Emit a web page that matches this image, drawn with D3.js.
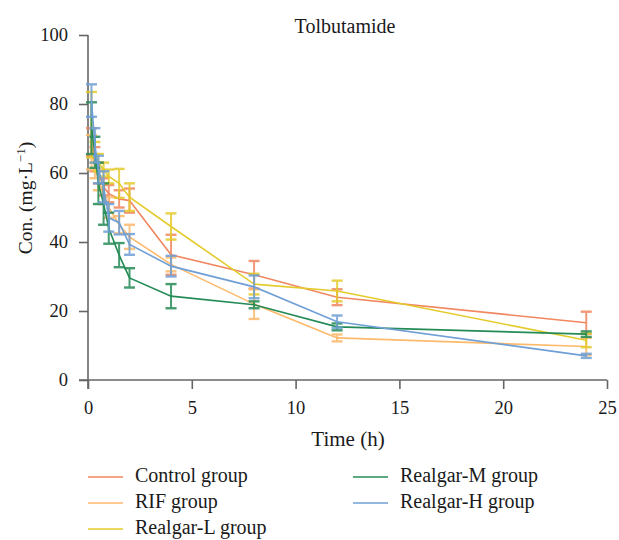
<!DOCTYPE html>
<html>
<head>
<meta charset="utf-8">
<script src="https://cdn.jsdelivr.net/npm/d3@7"></script>
<style>
  body { margin: 0; background: #fff; }
  text { font-family: "Liberation Serif", "DejaVu Serif", serif; fill: #1a1a1a; }
</style>
</head>
<body>
<svg width="619" height="540"></svg>
<script>
// sampling times (h)
var times = [0.167, 0.333, 0.5, 0.75, 1, 1.5, 2, 4, 8, 12, 24];

// group means and SDs (mg/L)
var controlMean = [69, 64, 60, 56, 54, 52.5, 52, 36.3, 30.5, 24, 16.6];
var controlSd   = [4, 3.5, 3, 2.5, 2.5, 2.5, 3.5, 5.8, 4, 2.3, 3.2];
var rifMean     = [66, 62, 58, 54, 50, 45, 41.5, 33.5, 22, 12.2, 9.7];
var rifSd       = [5, 3.5, 3, 3, 3, 2.5, 3.5, 2, 4.3, 1, 2.5];
var lowMean     = [74, 66, 63, 61, 59, 57, 53, 44.5, 27.8, 25.8, 11.5];
var lowSd       = [9.5, 3, 2.5, 2, 2, 4.2, 4, 3.8, 3, 3, 2];
var midMean     = [73, 66, 57, 51, 44, 36.2, 29.6, 24.3, 21.8, 15.4, 13.3];
var midSd       = [7.5, 4.5, 6, 6, 4.5, 3.5, 2.8, 3.5, 1, 1, 0.8];
var highMean    = [81, 68, 61, 56, 47, 45.6, 39.3, 33, 27, 16.9, 7];
var highSd      = [4.7, 5, 4, 4.5, 4, 3.4, 3, 3, 3.3, 1.8, 0.6];

var groupNames  = ["Control group", "RIF group", "Realgar-L group", "Realgar-M group", "Realgar-H group"];
var groupColors = ["#f0875f", "#fdba6c", "#e4cb2c", "#248b57", "#6f9fd5"];

var xTicks = [0, 5, 10, 15, 20, 25];
var yTicks = [0, 20, 40, 60, 80, 100];

var svg = d3.select("svg");

var x = d3.scaleLinear().domain([0, 25]).range([88, 607]);
var y = d3.scaleLinear().domain([0, 100]).range([380, 35]);

var groups = [
  { name: groupNames[0], color: groupColors[0], mean: controlMean, sd: controlSd },
  { name: groupNames[1], color: groupColors[1], mean: rifMean, sd: rifSd },
  { name: groupNames[2], color: groupColors[2], mean: lowMean, sd: lowSd },
  { name: groupNames[3], color: groupColors[3], mean: midMean, sd: midSd },
  { name: groupNames[4], color: groupColors[4], mean: highMean, sd: highSd }
];

// axes
var axisColor = "#666";
var xAxis = svg.append("g").attr("transform", "translate(0,380)")
  .call(d3.axisBottom(x).tickValues(xTicks).tickSize(9).tickPadding(12).tickFormat(d3.format("d")));
var yAxis = svg.append("g").attr("transform", "translate(88,0)")
  .call(d3.axisLeft(y).tickValues(yTicks).tickSize(9).tickPadding(11).tickFormat(d3.format("d")));

[xAxis, yAxis].forEach(function(a) {
  a.select(".domain").remove();
  a.selectAll("line").attr("stroke", axisColor).attr("stroke-width", 1.6);
  a.selectAll("text").style("font-size", "18.5px").style("font-family", "Liberation Serif, serif").attr("fill", "#1a1a1a");
});
svg.append("line").attr("x1", 79).attr("x2", x(25)).attr("y1", 380).attr("y2", 380)
  .attr("stroke", axisColor).attr("stroke-width", 1.6);
svg.append("line").attr("x1", 88).attr("x2", 88).attr("y1", y(100)).attr("y2", 389)
  .attr("stroke", axisColor).attr("stroke-width", 1.6);

// lines + error bars
var line = d3.line().x(function(d) { return x(d.t); }).y(function(d) { return y(d.m); });
groups.forEach(function(g) {
  var pts = times.map(function(t, i) { return { t: t, m: g.mean[i], s: g.sd[i] }; });
  var gg = svg.append("g");
  gg.append("path").datum(pts).attr("d", line).attr("fill", "none")
    .attr("stroke", g.color).attr("stroke-width", 1.6);
  var eb = gg.selectAll("g.eb").data(pts).enter().append("g").attr("opacity", 0.85);
  eb.append("line")
    .attr("x1", function(d) { return x(d.t); }).attr("x2", function(d) { return x(d.t); })
    .attr("y1", function(d) { return y(d.m + d.s); }).attr("y2", function(d) { return y(d.m - d.s); })
    .attr("stroke", g.color).attr("stroke-width", 2);
  [1, -1].forEach(function(k) {
    eb.append("line")
      .attr("x1", function(d) { return x(d.t) - 5.5; }).attr("x2", function(d) { return x(d.t) + 5.5; })
      .attr("y1", function(d) { return y(d.m + k * d.s); }).attr("y2", function(d) { return y(d.m + k * d.s); })
      .attr("stroke", g.color).attr("stroke-width", 2.4);
  });
});

// titles
svg.append("text").attr("x", 345).attr("y", 33).attr("text-anchor", "middle")
  .style("font-size", "20px").text("Tolbutamide");
svg.append("text").attr("x", 348).attr("y", 446).attr("text-anchor", "middle")
  .style("font-size", "21px").text("Time (h)");
var yl = svg.append("text").attr("transform", "translate(32,198) rotate(-90)").attr("text-anchor", "middle")
  .style("font-size", "19.5px");
yl.append("tspan").text("Con. (mg·L");
yl.append("tspan").attr("dy", -7).style("font-size", "13px").text("−1");
yl.append("tspan").attr("dy", 7).text(")");

// legend
var legendPos = [[88, 477], [88, 503], [88, 529], [353, 477], [353, 503]];
groups.forEach(function(g, i) {
  var p = legendPos[i];
  svg.append("line").attr("x1", p[0]).attr("x2", p[0] + 35).attr("y1", p[1]).attr("y2", p[1])
    .attr("stroke", g.color).attr("stroke-width", 1.6);
  svg.append("text").attr("x", p[0] + 47).attr("y", p[1] + 5)
    .style("font-size", "20px").text(g.name);
});
</script>
</body>
</html>
